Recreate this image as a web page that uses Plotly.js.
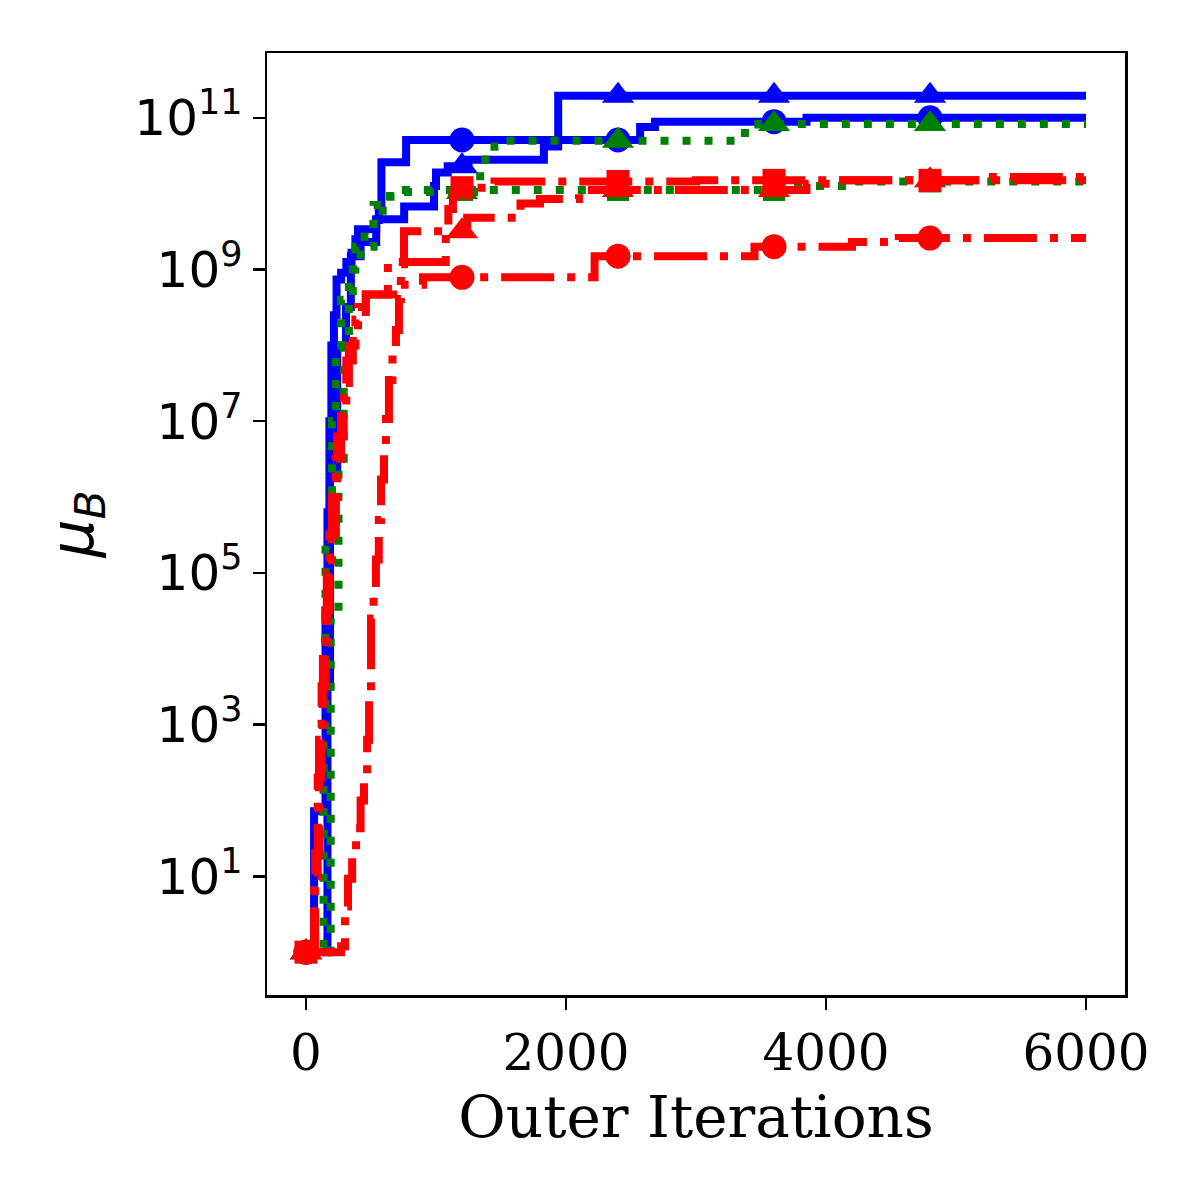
<!DOCTYPE html>
<html>
<head>
<meta charset="utf-8">
<script src="https://cdn.plot.ly/plotly-3.0.1.min.js"></script>
<style>html,body{margin:0;padding:0;background:#fff;}#chart{width:1200px;height:1200px;}</style>
</head>
<body>
<div id="chart"></div>
<script>
// ---- data ----
const markerIters = [0, 1200, 2400, 3600, 4800];

const blueCircX = [0, 62, 150, 165, 180, 195, 215, 235, 270, 310, 350, 380, 400, 540, 560, 580, 770, 2570, 2685, 3850, 6000];
const blueCircY = [1, 72, 3.2e4, 6.3e5, 1.0e7, 1.0e8, 2.5e8, 7.4e8, 9.1e8, 1.26e9, 1.66e9, 2.5e9, 3.4e9, 4.5e9, 6.8e9, 2.6e10, 5.1e10, 7.6e10, 8.9e10, 1.0e11, 1.0e11];

const blueTriX = [0, 165, 185, 240, 308, 345, 420, 540, 755, 985, 1000, 1090, 1250, 1830, 1940, 6000];
const blueTriY = [1, 3.2e3, 2.0e6, 1.0e8, 3.2e8, 1.5e9, 2.3e9, 4.6e9, 6.8e9, 1.26e10, 1.9e10, 2.3e10, 2.8e10, 4.2e10, 1.95e11, 1.95e11];

const greenTriX = [0, 190, 250, 290, 330, 360, 420, 520, 590, 650, 1340, 1380, 1450, 1500, 3300, 3480, 6000];
const greenTriY = [1, 2.5e4, 3.2e6, 1.0e8, 4.0e8, 1.0e9, 2.0e9, 4.0e9, 7.1e9, 1.05e10, 2.0e10, 3.2e10, 4.2e10, 5.0e10, 6.3e10, 8.3e10, 8.3e10];

const greenSqX = [0, 135, 150, 200, 230, 270, 330, 380, 450, 520, 600, 680, 3700, 4200, 6000];
const greenSqY = [1, 1.0e3, 3.2e5, 1.0e7, 1.0e8, 4.0e8, 1.0e9, 2.0e9, 4.0e9, 7.1e9, 9.3e9, 1.12e10, 1.26e10, 1.45e10, 1.45e10];

const redSqX = [0, 62, 90, 120, 150, 180, 230, 270, 310, 360, 400, 460, 630, 1075, 1095, 1130, 1200, 1450, 3000, 5200, 6000];
const redSqY = [1, 10, 200, 3.2e3, 3.2e4, 3.2e5, 3.2e6, 1.6e7, 6.3e7, 1.6e8, 3.2e8, 4.7e8, 1.26e9, 3.2e9, 6.3e9, 1.0e10, 1.2e10, 1.45e10, 1.5e10, 1.66e10, 1.66e10];

const redTriX = [0, 270, 300, 323, 355, 385, 420, 446, 470, 485, 500, 520, 538, 560, 577, 600, 615, 638, 665, 692, 715, 730, 754, 1240, 1650, 1800, 2100, 3850, 4100, 6000];
const redTriY = [1, 1.2, 4, 9.3, 20, 43, 100, 195, 630, 2.2e3, 2.5e4, 6.3e4, 1.5e5, 5.0e5, 1.7e6, 4.0e6, 1.07e7, 3.5e7, 7.9e7, 1.6e8, 4.1e8, 1.17e9, 3.2e9, 4.8e9, 7.4e9, 8.5e9, 1.12e10, 1.35e10, 1.5e10, 1.5e10];

const redCircX = [0, 70, 100, 130, 160, 200, 240, 290, 330, 380, 460, 730, 900, 2220, 3450, 4200, 4560, 6000];
const redCircY = [1, 20, 630, 1.0e4, 1.0e5, 1.0e6, 6.3e6, 3.2e7, 1.0e8, 2.2e8, 4.7e8, 6.3e8, 7.9e8, 1.5e9, 2.0e9, 2.3e9, 2.6e9, 2.6e9];

const xTickVals = [0, 2000, 4000, 6000];
const xTickText = ['0', '2000', '4000', '6000'];
const yTickVals = [1e1, 1e3, 1e5, 1e7, 1e9, 1e11];
const yTickText = ['10<sup>1</sup>', '10<sup>3</sup>', '10<sup>5</sup>', '10<sup>7</sup>', '10<sup>9</sup>', '10<sup>11</sup>'];

// ---- styling ----
const LW = 8;
const DOTTED = '8px,14px';
const DASHDOT = '53px,13px,8px,13px';

function stepAt(xs, ys, x) {
  let v = ys[0];
  for (let i = 0; i < xs.length; i++) { if (xs[i] <= x) v = ys[i]; }
  return v;
}

const series = [
  {x: blueCircX, y: blueCircY, color: '#0000ff', dash: 'solid', symbol: 'circle', size: 25},
  {x: blueTriX, y: blueTriY, color: '#0000ff', dash: 'solid', symbol: 'triangle-up', size: 28},
  {x: greenSqX, y: greenSqY, color: '#008000', dash: DOTTED, symbol: 'square', size: 22},
  {x: greenTriX, y: greenTriY, color: '#008000', dash: DOTTED, symbol: 'triangle-up', size: 28},
  {x: redCircX, y: redCircY, color: '#ff0000', dash: DASHDOT, symbol: 'circle', size: 25},
  {x: redTriX, y: redTriY, color: '#ff0000', dash: DASHDOT, symbol: 'triangle-up', size: 28},
  {x: redSqX, y: redSqY, color: '#ff0000', dash: DASHDOT, symbol: 'square', size: 23}
];

const traces = [];
series.forEach(s => {
  traces.push({
    x: s.x, y: s.y, type: 'scatter', mode: 'lines',
    line: {color: s.color, width: LW, dash: s.dash, shape: 'hv'},
    hoverinfo: 'skip', showlegend: false
  });
  traces.push({
    x: markerIters, y: markerIters.map(m => stepAt(s.x, s.y, m)),
    type: 'scatter', mode: 'markers',
    marker: {color: s.color, symbol: s.symbol, size: s.size, line: {width: 0}},
    hoverinfo: 'skip', showlegend: false, cliponaxis: false
  });
});

const layout = {
  width: 1200, height: 1200,
  margin: {l: 267, r: 75, t: 53, b: 205, pad: 0},
  paper_bgcolor: '#ffffff', plot_bgcolor: '#ffffff',
  showlegend: false,
  xaxis: {
    range: [-300, 6300], showgrid: false, zeroline: false,
    showline: true, mirror: true, linecolor: '#000', linewidth: 2.5,
    ticks: 'outside', ticklen: 12, tickwidth: 2.5, tickcolor: '#000',
    tickvals: xTickVals, ticktext: xTickText,
    tickfont: {family: 'DejaVu Serif', size: 50, color: '#000'},
    title: {text: 'Outer Iterations', font: {family: 'DejaVu Serif', size: 58, color: '#000'}, standoff: 16}
  },
  yaxis: {
    type: 'log', range: [-0.565, 11.855], showgrid: false, zeroline: false,
    showline: true, mirror: true, linecolor: '#000', linewidth: 2.5,
    ticks: 'outside', ticklen: 12, tickwidth: 2.5, tickcolor: '#000',
    tickvals: yTickVals, ticktext: yTickText,
    tickfont: {family: 'DejaVu Sans', size: 50, color: '#000'},
    title: {text: '<i>μ</i><sub><i>B</i></sub>', font: {family: 'DejaVu Sans', size: 60, color: '#000'}, standoff: 22}
  }
};

Plotly.newPlot('chart', traces, layout, {staticPlot: true, displayModeBar: false});
</script>
</body>
</html>
